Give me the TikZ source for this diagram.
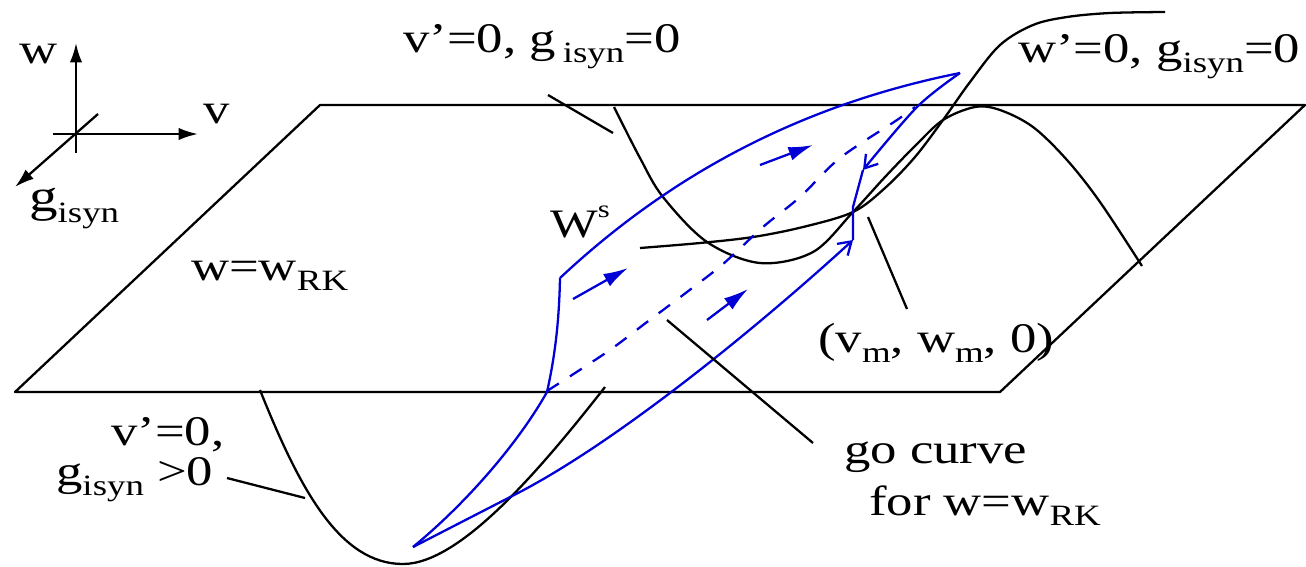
\documentclass[tikz,border=0pt]{standalone}
\usepackage{fontspec}
\setmainfont{Liberation Serif}[FakeStretch=1.25]
\usetikzlibrary{arrows.meta}
\definecolor{trajblue}{RGB}{0,0,215}
\newcommand\lbsub[1]{\raisebox{-0.25em}{\fontsize{16.8}{17}\selectfont #1}}
\begin{document}
\begin{tikzpicture}[x=0.02cm,y=-0.02cm,line width=1.3pt,line join=round,
  lbl/.style={anchor=base west,inner sep=0pt,font=\fontsize{24}{26}\selectfont},
  axis/.style={-{Latex[length=11pt,width=7pt]}},
  traj/.style={trajblue},
  flow/.style={trajblue,-{Latex[length=14pt,width=8pt]}},
  barb/.style={trajblue,-{Straight Barb[length=7pt,width=9pt]}},
  leader/.style={black}]
\useasboundingbox (0,0) rectangle (1306,566);

% axes
\coordinate (wlo) at (76,153); \coordinate (whi) at (76,43);
\coordinate (vlo) at (53,134); \coordinate (vhi) at (198,134);
\coordinate (glo) at (98,114); \coordinate (ghi) at (15,187);
\draw[axis] (wlo) -- (whi);
\draw[axis] (vlo) -- (vhi);
\draw[axis] (glo) -- (ghi);
\node[lbl] (lw) at (18,63) {w};
\node[lbl] (lv) at (202,123) {v};
\node[lbl,font=\fontsize{26}{28}\selectfont] (lg) at (28,211) {g\lbsub{isyn}};

% plane
\coordinate (p1) at (320,105); \coordinate (p2) at (1305,105);
\coordinate (p3) at (1000,392); \coordinate (p4) at (15,392);
\draw (p1) -- (p2) -- (p3) -- (p4) -- cycle;

% nullclines
\draw plot[smooth,tension=0.55] coordinates {(614,107) (640,158) (663,197) (707,242) (760,263) (813,252) (853,212) (885,177) (915,146) (943,120) (975,107) (1000,110) (1033,127) (1067,160) (1100,202) (1142,266)};
\draw plot[smooth,tension=0.55] coordinates {(640,248) (700,243) (753,237) (803,227) (853,212) (885,188) (915,157) (943,120) (970,82) (1000,45) (1033,25) (1067,17) (1110,13) (1165,12)};
\coordinate (b1) at (260,390); \coordinate (b2) at (403,564); \coordinate (b3) at (605,387);
\draw (b1) .. controls (300,490) and (340,564) .. (b2) .. controls (460,564) and (540,470) .. (b3);

% blue trajectories
\coordinate (t0) at (560,278); \coordinate (t1) at (960,73);
\coordinate (t2) at (547,392); \coordinate (t3) at (413,547);
\coordinate (t4) at (518,493); \coordinate (k3) at (853,240);
\draw[traj] (t0) .. controls (670,175) and (800,105) .. (t1);
\draw[traj] (t0) .. controls (559,330) and (553,365) .. (t2);
\draw[traj] (t2) .. controls (520,440) and (470,500) .. (t3);
\draw[barb] (t3) -- (t4) .. controls (620,440) and (760,325) .. (k3);
\draw[barb] plot[smooth,tension=0.55] coordinates {(960,73) (917,107) (863,170)};
\coordinate (k1) at (863,170); \coordinate (k2) at (853,207);
\draw[traj] (k1) -- (k2) -- (k3);
\draw[traj,dash pattern=on 8pt off 7.5pt] plot[smooth,tension=0.55] coordinates {(547,391) (607,352) (647,322) (687,292) (723,264) (763,227) (800,197) (840,158) (897,120) (915,107)};

% flow arrows
\coordinate (f1a) at (573,299); \coordinate (f1b) at (628,268);
\coordinate (f2a) at (707,320); \coordinate (f2b) at (748,289);
\coordinate (f3a) at (760,165); \coordinate (f3b) at (813,145);
\draw[flow] (f1a) -- (f1b);
\draw[flow] (f2a) -- (f2b);
\draw[flow] (f3a) -- (f3b);

% leaders
\coordinate (l1a) at (548,95); \coordinate (l1b) at (613,133);
\coordinate (l2a) at (868,217); \coordinate (l2b) at (907,309);
\coordinate (l3a) at (667,320); \coordinate (l3b) at (813,443);
\coordinate (l4a) at (227,478); \coordinate (l4b) at (305,498);
\draw[leader] (l1a) -- (l1b);
\draw[leader] (l2a) -- (l2b);
\draw[leader] (l3a) -- (l3b);
\draw[leader] (l4a) -- (l4b);

% labels
\node[lbl] (top) at (402,52) {v’=0, g\,\lbsub{isyn}=0};
\node[lbl] (rt) at (1017,62) {w’=0, g\lbsub{isyn}=0};
\node[lbl,font=\fontsize{23}{24}\selectfont] (ws) at (549,237) {W\raisebox{11pt}{\fontsize{14}{14}\selectfont s}};
\node[lbl] (wrk) at (190,280) {w=w\lbsub{RK}};
\node[lbl] (vm) at (817,352) {(v\lbsub{m}, w\lbsub{m}, 0)};
\node[lbl] (go) at (843,463) {go curve};
\node[lbl] (for) at (868,515) {for w=w\lbsub{RK}};
\node[lbl] (vp) at (110,445) {v’=0,};
\node[lbl] (gp) at (55,485) {g\lbsub{isyn} >0};
\end{tikzpicture}
\end{document}
